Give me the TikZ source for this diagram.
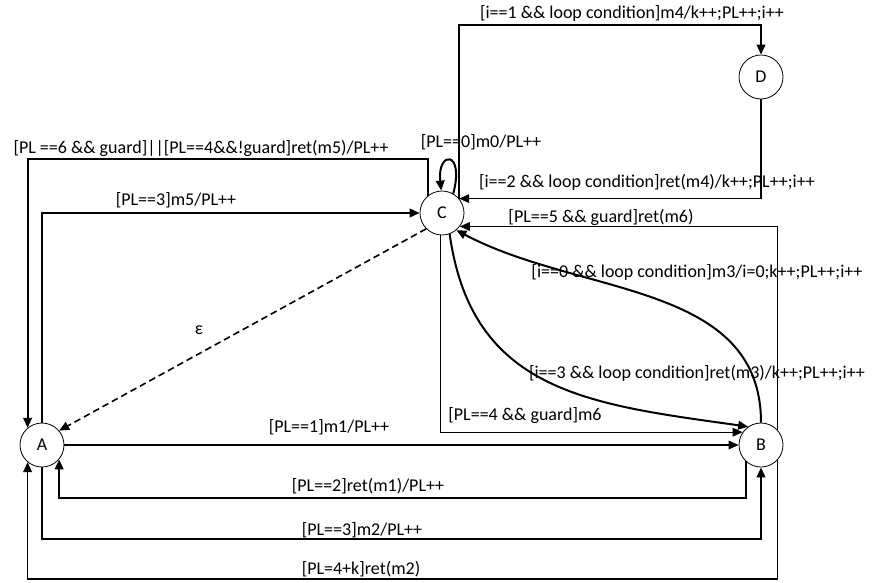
\documentclass[tikz,border=0pt]{standalone}
\usepackage{fontspec}
\setmainfont{Carlito}
\usetikzlibrary{arrows.meta}

\begin{document}
\begin{tikzpicture}[x=0.75pt, y=-0.75pt,
  st/.style={draw, circle, fill=white, minimum size=33pt, inner sep=0pt, line width=0.6pt, font=\fontsize{13.5}{16}\selectfont},
  lbl/.style={inner sep=0pt, font=\fontsize{13.5}{16}\selectfont},
  thn/.style={line width=0.8pt, -{Triangle[length=7.5pt, width=6.5pt]}},
  thk/.style={line width=1.5pt, -{Triangle[length=7.5pt, width=6.5pt]}}]
\useasboundingbox (0,0) rectangle (874,582);

% states
\path (42,445) node[st] (A) {A};
\path (761,445) node[st] (B) {B};
\path (442,213) node[st] (C) {C};
\path (761,77) node[st] (D) {D};

% C <-> D
\draw[thk] (C.40) -- ++(0,-174) -| (D);
\draw[thn] (D) |- (C.40);
\path (632,13) node[lbl] (l1) {[i==1 \&\& loop condition]m4/k++;PL++;i++};
\path (647,182) node[lbl] (l2) {[i==2 \&\& loop condition]ret(m4)/k++;PL++;i++};

% self loop on C
\draw[thk] (C.60) .. controls (465,150) and (437,150) .. (C.92);
\path (481,142) node[lbl] (l3) {[PL==0]m0/PL++};

% C <-> A
\draw[thk] (C.130) -- ++(0,-37) -| (A.130);
\path (201,148) node[lbl] (l4) {[PL ==6 \&\& guard]||[PL==4\&\&!guard]ret(m5)/PL++};
\draw[thk] (A.90) |- (C);
\path (176,200) node[lbl] (l5) {[PL==3]m5/PL++};
\draw[thk, line width=1.2pt, dash pattern=on 5pt off 3pt] (C.225) -- (A.40);
\path (199,330) node[lbl] (l6) {ε};

% B <-> C
\draw[thn] (B.43) |- (C.-37);
\path (601,217) node[lbl] (l7) {[PL==5 \&\& guard]ret(m6)};
\draw[thk] (B.90) to[out=90, in=-28] (C.-50);
\path (697,272) node[lbl] (l8) {[i==0 \&\& loop condition]m3/i=0;k++;PL++;i++};
\draw[thk] (C.-70) to[out=-82, in=172, looseness=1.15] (B.125);
\path (697,373) node[lbl] (l9) {[i==3 \&\& loop condition]ret(m3)/k++;PL++;i++};
\draw[thn] (C.-93) |- (B.145);
\path (525,416) node[lbl] (l10) {[PL==4 \&\& guard]m6};

% A <-> B
\draw[thn] (A) -- (B);
\path (329,427) node[lbl] (l11) {[PL==1]m1/PL++};
\draw[thk] (B.227) -- ++(0,37) -| (A.-40);
\path (368,486) node[lbl] (l12) {[PL==2]ret(m1)/PL++};
\draw[thk] (A.270) -- ++(0,72) -| (B.270);
\path (362,530) node[lbl] (l13) {[PL==3]m2/PL++};
\draw[thk, line width=1.2pt] (B.317) -- ++(0,119) -| (A.230);
\path (361,569) node[lbl] (l14) {[PL=4+k]ret(m2)};
\end{tikzpicture}
\end{document}
